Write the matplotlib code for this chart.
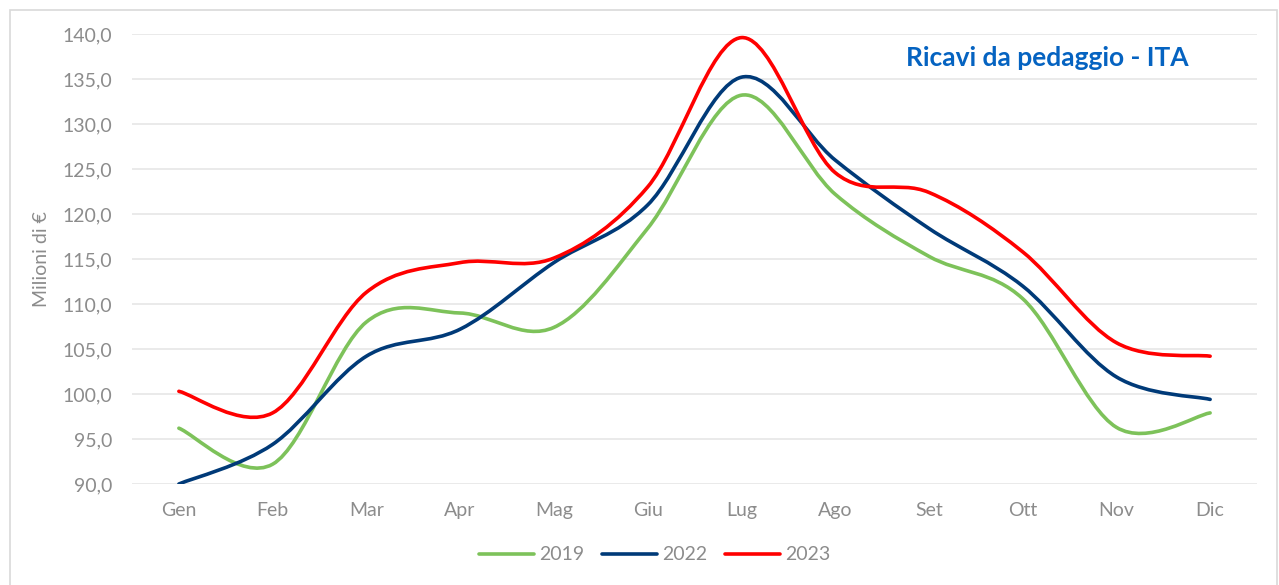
import numpy as np
import matplotlib
matplotlib.use("Agg")
import matplotlib.pyplot as plt
from matplotlib.path import Path
from matplotlib.patches import PathPatch, Rectangle
from matplotlib.lines import Line2D

months = ["Gen", "Feb", "Mar", "Apr", "Mag", "Giu", "Lug", "Ago", "Set", "Ott", "Nov", "Dic"]
v2019 = [96.2, 92.2, 108.0, 109.0, 107.4, 118.4, 133.2, 122.2, 115.3, 110.6, 96.3, 97.9]
v2022 = [90.0, 94.4, 104.2, 107.2, 114.6, 121.0, 135.2, 126.0, 118.4, 112.0, 101.9, 99.4]
v2023 = [100.3, 97.9, 111.3, 114.6, 115.1, 123.0, 139.6, 124.6, 122.4, 115.8, 105.7, 104.2]
series = [("2019", v2019, "#7dc25a"), ("2022", v2022, "#003a78"), ("2023", v2023, "#ff0000")]
yticks = [90, 95, 100, 105, 110, 115, 120, 125, 130, 135, 140]

plt.rcParams['font.family'] = ['Lato', 'DejaVu Sans']

fig = plt.figure(figsize=(12.79, 5.85), dpi=100)
W, H = 1279, 585
fig.patches.append(Rectangle((10 / W, -0.1), (1277 - 10) / W, 1 - 10 / H + 0.1,
                             transform=fig.transFigure, fill=False,
                             edgecolor="#d9d9d9", lw=1.2, zorder=0))
ax = fig.add_axes([132 / W, 1 - 484 / H, (1257 - 132) / W, 450 / H])


def smooth_path(xs, ys):
    pts = np.column_stack([xs, ys]).astype(float)
    n = len(pts)
    verts = [pts[0]]
    codes = [Path.MOVETO]
    for i in range(n - 1):
        p0 = pts[i - 1] if i > 0 else pts[i]
        p1 = pts[i]
        p2 = pts[i + 1]
        p3 = pts[i + 2] if i + 2 < n else pts[i + 1]
        c1 = p1 + (p2 - p0) / 6.0
        c2 = p2 - (p3 - p1) / 6.0
        verts += [c1, c2, p2]
        codes += [Path.CURVE4] * 3
    return Path(verts, codes)


x = np.arange(len(months))
handles = []
for name, vals, col in series:
    patch = PathPatch(smooth_path(x, vals), facecolor="none", edgecolor=col,
                      lw=2.6, capstyle="round", joinstyle="round", zorder=3)
    ax.add_patch(patch)
    handles.append(Line2D([0], [0], color=col, lw=2.6, solid_capstyle="round", label=name))

ax.set_xlim(-0.5, 11.5)
ax.set_ylim(90, 140)
ax.set_yticks(yticks)
ax.set_yticklabels([f"{t:.1f}".replace(".", ",") for t in yticks])
ax.set_xticks(x)
ax.set_xticklabels(months)
ax.grid(axis="y", color="#e6e6e6", lw=1.2, zorder=0)
for s in ax.spines.values():
    s.set_visible(False)
ax.tick_params(axis="both", length=0, colors="#8c8c8c", labelsize=14)
ax.tick_params(axis="y", pad=14)
ax.tick_params(axis="x", pad=13)
ax.set_ylabel("Milioni di €", color="#8c8c8c", fontsize=14)
ax.yaxis.set_label_coords(-0.073, 0.5)

fig.text(1047 / W, 1 - 58 / H, "Ricavi da pedaggio - ITA", color="#0563c1",
         fontsize=19, fontweight="bold", ha="center", va="center")

leg = fig.legend(handles=handles, loc="center", bbox_to_anchor=(655 / W, 1 - 555 / H),
                 ncol=3, frameon=False, fontsize=14, handlelength=2.8,
                 columnspacing=0.9, handletextpad=0.3)
for t in leg.get_texts():
    t.set_color("#8c8c8c")

fig.savefig("out.png", dpi=100)
